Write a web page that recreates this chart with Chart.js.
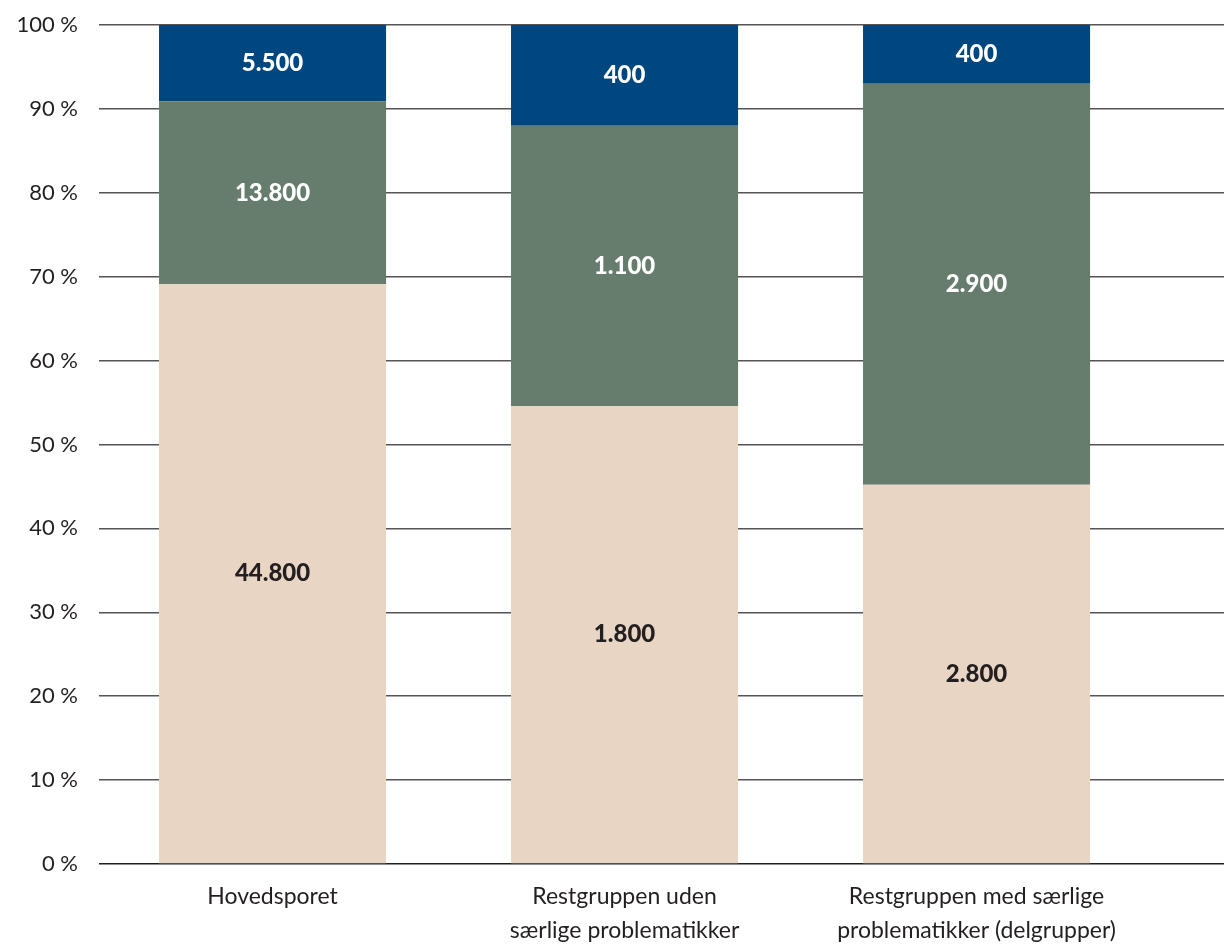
<!DOCTYPE html>
<html>
<head>
<meta charset="utf-8">
<script src="https://cdn.jsdelivr.net/npm/chart.js"></script>
<style>
  html, body { margin: 0; padding: 0; background: #fff; }
  #wrap { width: 1224px; height: 946px; }
</style>
</head>
<body>
<div id="wrap"><canvas id="chart"></canvas></div>
<script>
// categories, segment shares (%) and the counts printed on each segment (bottom -> top)
const categories = [
  ["Hovedsporet"],
  ["Restgruppen uden", "særlige problematikker"],
  ["Restgruppen med særlige", "problematikker (delgrupper)"]
];
const bottomPct = [69.1, 54.6, 45.2];
const middlePct = [21.8, 33.4, 47.8];
const topPct = [9.1, 12.0, 7.0];
const bottomCounts = ["44.800", "1.800", "2.800"];
const middleCounts = ["13.800", "1.100", "2.900"];
const topCounts = ["5.500", "400", "400"];
const yTicks = [0, 10, 20, 30, 40, 50, 60, 70, 80, 90, 100];

const toPoints = (pct, labels) => pct.map((v, i) => ({ x: i, y: v, label: labels[i] }));

const FONT = "Lato, 'Open Sans', sans-serif";
const INK = "#231f20";

// draw the counts in the middle of each segment
const segLabels = {
  id: "segLabels",
  afterDatasetsDraw(chart) {
    const ctx = chart.ctx;
    ctx.save();
    ctx.font = "900 24px " + FONT;
    ctx.textAlign = "center";
    ctx.textBaseline = "middle";
    chart.data.datasets.forEach((ds, di) => {
      chart.getDatasetMeta(di).data.forEach((el, i) => {
        ctx.fillStyle = ds.labelColor;
        ctx.fillText(ds.data[i].label, el.x, (el.y + el.base) / 2);
      });
    });
    ctx.restore();
  }
};

new Chart(document.getElementById("chart"), {
  type: "bar",
  data: {
    datasets: [
      { data: toPoints(bottomPct, bottomCounts), backgroundColor: "#e9d5c3", labelColor: INK },
      { data: toPoints(middlePct, middleCounts), backgroundColor: "#667d6d", labelColor: "#ffffff" },
      { data: toPoints(topPct, topCounts), backgroundColor: "#00467f", labelColor: "#ffffff" }
    ]
  },
  options: {
    responsive: true,
    maintainAspectRatio: false,
    animation: false,
    layout: { padding: { top: 25, left: 0, right: 0, bottom: 0 } },
    datasets: { bar: { barPercentage: 0.645, categoryPercentage: 1 } },
    plugins: { legend: { display: false }, tooltip: { enabled: false } },
    scales: {
      x: {
        type: "linear",
        stacked: true,
        offset: false,
        min: -0.493,
        max: 2.703,
        grid: { display: false, offset: false },
        border: { display: false },
        afterBuildTicks: s => { s.ticks = categories.map((c, i) => ({ value: i })); },
        afterFit: s => { s.height = 82; s.paddingLeft = 0; s.paddingRight = 0; },
        ticks: {
          autoSkip: false,
          maxRotation: 0,
          padding: 7,
          color: INK,
          font: { family: FONT, size: 23, lineHeight: 1.5 },
          callback: v => categories[v]
        }
      },
      y: {
        stacked: true,
        min: 0,
        max: 100,
        afterBuildTicks: s => { s.ticks = yTicks.map(v => ({ value: v })); },
        afterFit: s => { s.width = 99; s.paddingTop = 0; s.paddingBottom = 0; },
        border: { display: false },
        grid: {
          drawTicks: false,
          color: c => c.tick.value === 0 ? INK : "#555555",
          lineWidth: 1.5
        },
        ticks: {
          padding: 21,
          color: INK,
          font: { family: FONT, size: 22 },
          callback: v => v + " %"
        }
      }
    }
  },
  plugins: [segLabels]
});
</script>
</body>
</html>
